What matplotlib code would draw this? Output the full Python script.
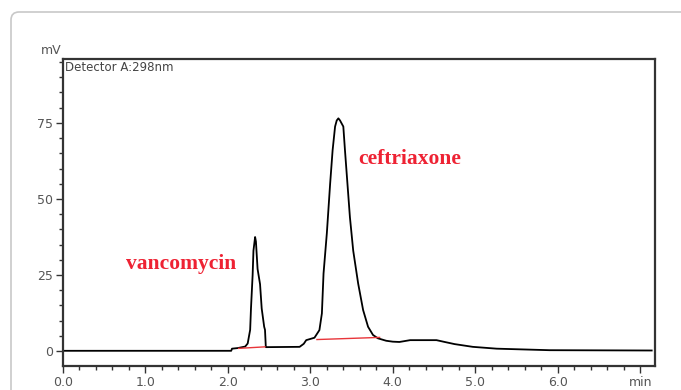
import matplotlib
matplotlib.use('Agg')
import matplotlib.pyplot as plt
from matplotlib.patches import FancyBboxPatch
import numpy as np

# chromatogram trace (time in min, signal in mV)
t = [0.0, 2.04, 2.05, 2.12, 2.21, 2.24, 2.27, 2.28, 2.30, 2.31, 2.33, 2.34,
     2.36, 2.39, 2.41, 2.44, 2.45, 2.46, 2.87, 2.92, 2.95, 3.05, 3.11, 3.14,
     3.16, 3.20, 3.24, 3.27, 3.30, 3.32, 3.34, 3.36, 3.40, 3.42, 3.45, 3.48,
     3.52, 3.58, 3.64, 3.70, 3.76, 3.82, 3.87, 3.92, 4.00, 4.08, 4.21, 4.53,
     4.63, 4.75, 4.97, 5.26, 5.90, 7.14]
mv = [0.1, 0.1, 0.8, 1.0, 1.5, 2.5, 7.0, 14.0, 25.0, 33.0, 37.5, 36.0,
      27.0, 22.0, 14.0, 8.0, 7.0, 1.3, 1.4, 2.4, 3.6, 4.4, 6.9, 12.4,
      25.5, 38.7, 55.0, 66.0, 73.8, 75.8, 76.5, 75.8, 73.8, 66.0, 55.0, 44.0,
      33.0, 22.2, 13.5, 8.0, 5.3, 4.2, 3.8, 3.4, 3.1, 3.0, 3.6, 3.6,
      3.0, 2.3, 1.4, 0.8, 0.3, 0.2]

# integration baselines
base_t = [[2.13, 2.45], [3.08, 3.84]]
base_mv = [[0.9, 1.4], [3.8, 4.5]]

peak_names = ['vancomycin', 'ceftriaxone']
peak_label_pos = [(0.77, 28.6), (3.58, 63.2)]

fig = plt.figure(figsize=(6.81, 3.90), dpi=100)

# rounded card border around the figure
card = FancyBboxPatch((11, -20), 700, 398, boxstyle='round,pad=0,rounding_size=8',
                      transform=None, facecolor='none', edgecolor='#c8c8c8', linewidth=1.2)
fig.patches.append(card)

ax = fig.add_axes([0.0925, 0.0615, 0.8693, 0.7872])
ax.plot(t, mv, color='black', lw=1.3)
for bt, bm in zip(base_t, base_mv):
    ax.plot(bt, bm, color='#e8353a', lw=1.0)

for name, (x, y) in zip(peak_names, peak_label_pos):
    ax.text(x, y, name, color='#ee2233', fontsize=15.5, fontweight='bold',
            family='Liberation Serif', va='center', ha='left')

ax.set_xlim(0, 7.18)
ax.set_ylim(-4.9, 96)

xt = np.arange(0, 8, 1.0)
ax.set_xticks(xt)
ax.set_xticklabels(['%.1f' % v for v in xt[:-1]] + ['min'])
ax.set_xticks(np.arange(0, 7.2, 0.2), minor=True)
ax.set_yticks([0, 25, 50, 75])
ax.set_yticks(np.arange(0, 96, 5), minor=True)

ax.tick_params(which='both', direction='out', colors='#333333', labelcolor='#555555',
               labelsize=9, width=1.0)
ax.tick_params(which='major', length=5, pad=2)
ax.tick_params(which='minor', length=3)
for lab in ax.get_xticklabels() + ax.get_yticklabels():
    lab.set_family('DejaVu Sans')

for s in ax.spines.values():
    s.set_color('#333333')
    s.set_linewidth(1.6)

ax.text(0.004, 0.995, 'Detector A:298nm', transform=ax.transAxes, fontsize=8.5,
        color='#444444', va='top', ha='left')
ax.text(-0.003, 1.005, 'mV', transform=ax.transAxes, fontsize=9,
        color='#555555', va='bottom', ha='right')

fig.savefig('out.png', dpi=100)
